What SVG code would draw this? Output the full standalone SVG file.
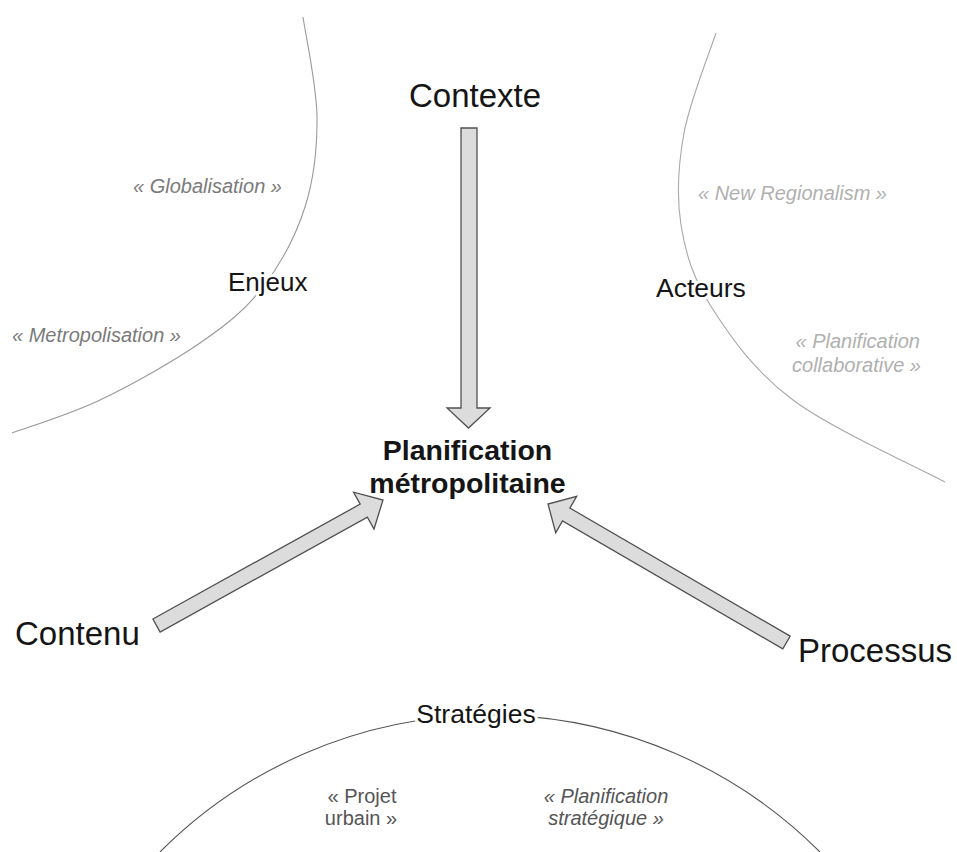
<svg xmlns="http://www.w3.org/2000/svg" width="957" height="852" viewBox="0 0 957 852">
<style>
.bg{fill:#ffffff}
.arc{fill:none;stroke-width:1.1}
.main{font-family:"Liberation Sans",Arial,sans-serif;fill:#151515}
.halo{stroke:#ffffff;stroke-width:6;paint-order:stroke;stroke-linejoin:round}
.sub{font-family:"Liberation Sans",Arial,sans-serif;font-size:20px}
.arrow{fill:#dcdcdc;stroke:#505050;stroke-width:1.3;stroke-linejoin:miter}
</style>
<rect class="bg" x="0" y="0" width="957" height="852"/>
<g id="enjeux">
<path class="arc" stroke="#9a9a9a" d="M303,17 C305.3,33.7 316.7,85.3 317,117 C317.3,148.7 314,178.7 305,207 C296,235.3 280.5,264.3 263,287 C245.5,309.7 227.2,324.2 200,343 C172.8,361.8 131.3,385 100,400 C68.7,415 26.7,427.5 12,433"/>
<text class="main halo" x="228" y="291" font-size="26">Enjeux</text>
<text class="sub" x="133" y="193" font-style="italic" fill="#7a7a7a">« Globalisation »</text>
<text class="sub" x="12" y="342" font-style="italic" fill="#7a7a7a">« Metropolisation »</text>
</g>
<g id="acteurs">
<path class="arc" stroke="#a8a8a8" d="M716,33 C710.7,49.7 689.8,101 684,133 C678.2,165 676.3,195.8 681,225 C685.7,254.2 693.3,278.8 712,308 C730.7,337.2 754.2,371 793,400 C831.8,429 919.7,468.3 945,482"/>
<text class="main halo" x="656" y="297" font-size="26.5">Acteurs</text>
<text class="sub" x="698" y="200" font-style="italic" fill="#b0b0b0">« New Regionalism »</text>
<text class="sub" x="920" y="348" font-style="italic" fill="#b0b0b0" text-anchor="end">« Planification</text>
<text class="sub" x="921" y="372" font-style="italic" fill="#b0b0b0" text-anchor="end">collaborative »</text>
</g>
<g id="strategies">
<path class="arc" stroke="#555555" d="M160,852 A466,466 0 0,1 820,852"/>
<text class="main halo" x="476" y="723" font-size="26.5" text-anchor="middle">Stratégies</text>
<text class="sub" x="362" y="803" fill="#555555" text-anchor="middle">« Projet</text>
<text class="sub" x="361" y="825" fill="#555555" text-anchor="middle">urbain »</text>
<text class="sub" x="606" y="803" fill="#555555" font-style="italic" text-anchor="middle">« Planification</text>
<text class="sub" x="606" y="825" fill="#555555" font-style="italic" text-anchor="middle">stratégique »</text>
</g>
<g id="contexte">
<text class="main" x="475" y="107" font-size="33" text-anchor="middle">Contexte</text>
</g>
<g id="contenu">
<text class="main" x="15" y="645" font-size="33">Contenu</text>
</g>
<g id="processus">
<text class="main" x="798" y="662" font-size="33">Processus</text>
</g>
<g id="planification">
<text class="main" x="467.5" y="460" font-size="28.5" font-weight="bold" text-anchor="middle">Planification</text>
<text class="main" x="467.5" y="493" font-size="28.5" font-weight="bold" text-anchor="middle">métropolitaine</text>
</g>
<g id="connectors">
<polygon class="arrow" points="461,128 477,128 477,408 490,408 468.5,428 447,408 461,408"/>
<polygon class="arrow" points="152.9,619 360.2,504.1 353.6,492.2 383,500 374,529 367.4,517.1 160.1,632"/>
<polygon class="arrow" points="790.2,636.1 569.9,508.1 576.7,496.3 548,504 555.7,532.7 562.5,520.9 782.8,648.9"/>
</g>
</svg>
